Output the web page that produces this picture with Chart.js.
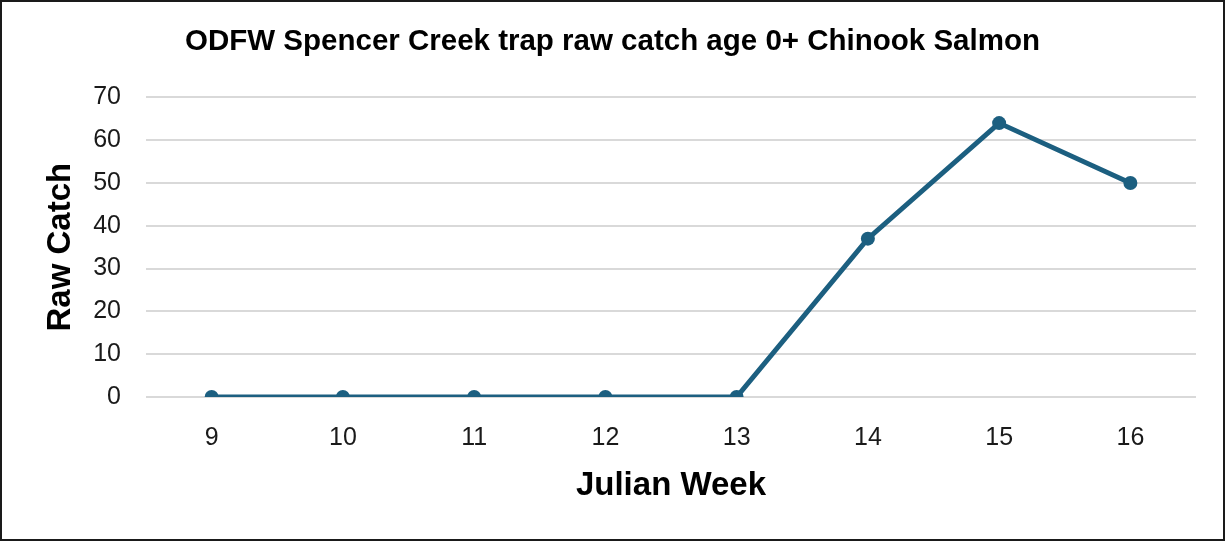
<!DOCTYPE html>
<html>
<head>
<meta charset="utf-8">
<script src="https://cdn.jsdelivr.net/npm/chart.js@4"></script>
<style>
  body { margin: 0; background: #fff; }
  #box { position: absolute; left: 0; top: 0; width: 1221px; height: 537px; border: 2px solid #1a1a1a; background: #fff; }
</style>
</head>
<body>
<div id="box"><canvas id="chart" width="1221" height="537"></canvas></div>
<script>
// data
const weeks = ['9', '10', '11', '12', '13', '14', '15', '16'];
const rawCatch = [0, 0, 0, 0, 0, 37, 64, 50];
const yTicks = [0, 10, 20, 30, 40, 50, 60, 70];

const lineColor = '#1c5f80';
const font = 'Liberation Sans';

const ctx = document.getElementById('chart').getContext('2d');
new Chart(ctx, {
    type: 'line',
    data: {
        labels: weeks,
        datasets: [{
            label: 'Raw Catch',
            data: rawCatch,
            borderColor: lineColor,
            backgroundColor: lineColor,
            borderWidth: 5,
            pointRadius: 7,
            pointBackgroundColor: lineColor,
            pointBorderWidth: 0,
            tension: 0
        }]
    },
    options: {
        responsive: false,
        animation: false,
        plugins: {
            legend: { display: false },
            tooltip: { enabled: false },
            title: {
                display: true,
                text: 'ODFW Spencer Creek trap raw catch age 0+ Chinook Salmon',
                color: '#000',
                font: { family: font, size: 29.5, weight: 'bold' },
                padding: { top: 22, bottom: 38 }
            }
        },
        scales: {
            x: {
                offset: true,
                grid: { display: false },
                border: { display: false },
                ticks: {
                    color: '#1a1a1a',
                    font: { family: font, size: 25 },
                    padding: 18
                },
                title: {
                    display: true,
                    text: 'Julian Week',
                    color: '#000',
                    font: { family: font, size: 33, weight: 'bold' },
                    padding: { top: 10, bottom: 33 }
                },
                afterFit: (scale) => { scale.height = 142; }
            },
            y: {
                min: 0,
                max: 70,
                afterBuildTicks: (scale) => { scale.ticks = yTicks.map(v => ({ value: v })); },
                grid: { color: '#d9d9d9', lineWidth: 2, drawTicks: false },
                border: { display: false },
                ticks: {
                    color: '#1a1a1a',
                    font: { family: font, size: 25 },
                    padding: 25
                },
                title: {
                    display: true,
                    text: 'Raw Catch',
                    color: '#000',
                    font: { family: font, size: 33, weight: 'bold' },
                    padding: { top: 39, bottom: 0 }
                },
                afterFit: (scale) => { scale.width = 144; }
            },
            // empty right margin so the title stays centred on the whole box
            yRight: {
                position: 'right',
                display: true,
                grid: { display: false },
                border: { display: false },
                ticks: { display: false },
                afterFit: (scale) => { scale.width = 27; }
            }
        }
    }
});
</script>
</body>
</html>
